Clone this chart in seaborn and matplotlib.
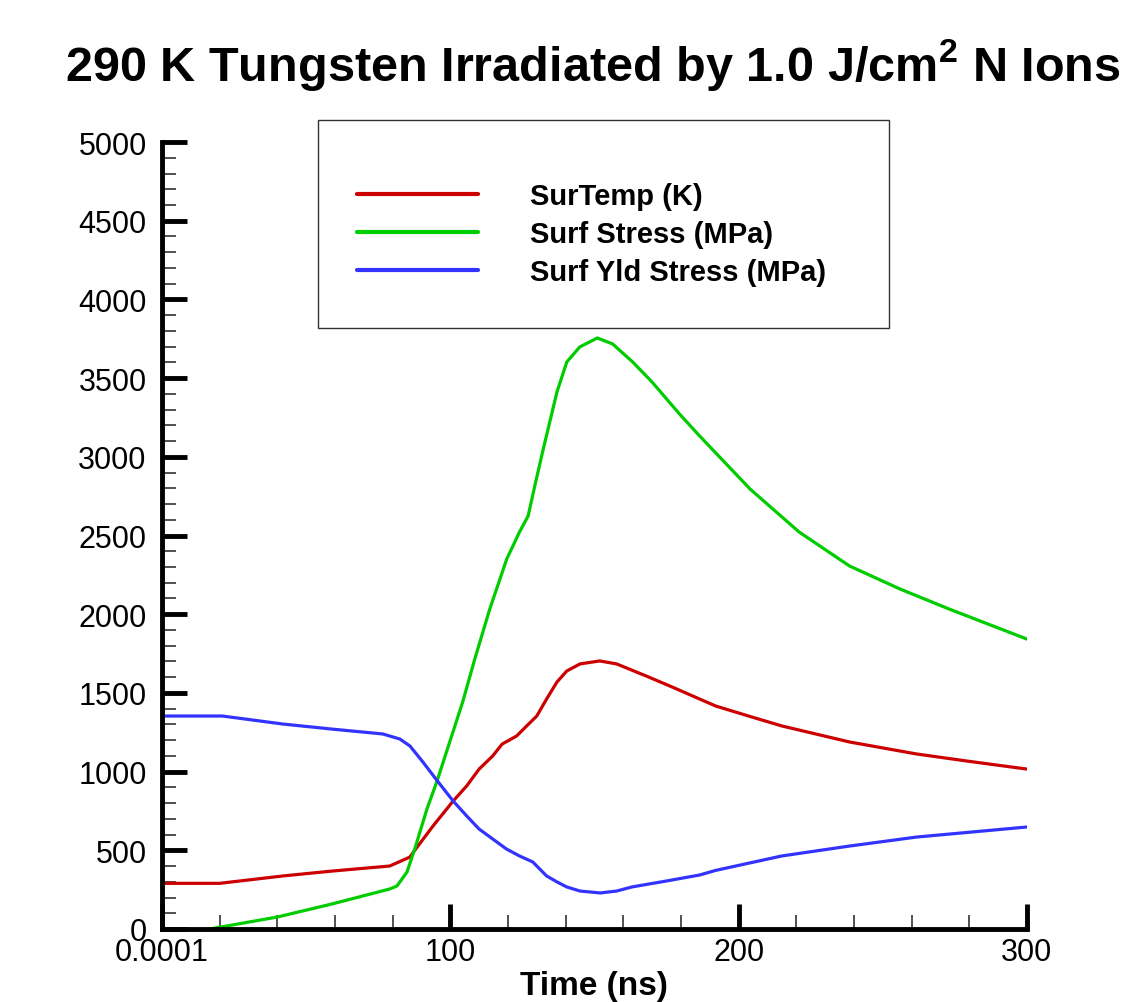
import matplotlib
matplotlib.use("Agg")
import matplotlib.pyplot as plt
import seaborn as sns
import pandas as pd
from matplotlib.ticker import MultipleLocator, FixedLocator, FixedFormatter
from matplotlib.patches import Rectangle
from matplotlib.lines import Line2D

# ---- data ----
temp_x = [0, 20, 42, 59, 79, 86, 88, 94, 101, 105.7, 110, 114.7, 118, 123, 126.5, 130, 133.4,
          137, 140.4, 145, 151.8, 157.7, 168, 177, 186.5, 192, 204, 215, 238.5, 261.7, 280, 300]
temp_y = [290, 290, 337, 368, 400, 457, 508, 654, 813, 909, 1016, 1099, 1175, 1226, 1290, 1353, 1461,
          1569, 1639, 1684, 1703, 1684, 1607, 1537, 1461, 1417, 1350, 1290, 1188, 1112, 1065, 1016]

stress_x = [16.6, 40, 59, 79, 81.5, 85, 88, 91.9, 95.3, 99.8, 104.3, 108.5, 113.7, 119.6, 124, 127,
            129.3, 132, 135, 137, 140.4, 144.9, 151, 156.3, 163.3, 170, 179.5, 186.5, 204, 221,
            238.5, 256, 273, 300]
stress_y = [0, 76, 159, 254, 273, 362, 527, 762, 934, 1188, 1442, 1715, 2033, 2351, 2522, 2624,
            2814, 3030, 3259, 3412, 3602, 3698, 3755, 3717, 3602, 3475, 3272, 3132, 2795, 2522,
            2306, 2160, 2033, 1842]

yld_x = [0, 21, 42, 59, 76.6, 82.5, 86, 90.5, 95, 101, 105.7, 110, 114.7, 119.5, 124, 128.6,
         133.4, 137, 140.4, 145, 152, 157.7, 163, 175, 186.5, 192, 215, 238.5, 261.7, 300]
yld_y = [1353, 1353, 1302, 1270, 1239, 1207, 1163, 1061, 953, 813, 718, 635, 572, 508, 464, 426,
         337, 299, 267, 241, 229, 241, 267, 305, 343, 372, 464, 527, 584, 648]

series_names = ["SurTemp (K)", "Surf Stress (MPa)", "Surf Yld Stress (MPa)"]
series_colors = ["#CC0000", "#00CC00", "#3333FF"]
x_tick_vals = [0, 100, 200, 300]
x_tick_labels = ["0.0001", "100", "200", "300"]

df = pd.concat([
    pd.DataFrame({"Time": temp_x, "Value": temp_y, "Series": series_names[0]}),
    pd.DataFrame({"Time": stress_x, "Value": stress_y, "Series": series_names[1]}),
    pd.DataFrame({"Time": yld_x, "Value": yld_y, "Series": series_names[2]}),
], ignore_index=True)

sns.set_theme(style="white")
plt.rcParams["font.family"] = ["Liberation Sans", "DejaVu Sans"]
plt.rcParams["text.color"] = "black"
plt.rcParams["axes.labelcolor"] = "black"
plt.rcParams["mathtext.fontset"] = "custom"
plt.rcParams["mathtext.bf"] = "Liberation Sans:bold"
plt.rcParams["mathtext.rm"] = "Liberation Sans"

fig = plt.figure(figsize=(11.27, 10.03), dpi=100)
ax = fig.add_axes([0.1437, 0.0728, 0.9112 - 0.1437, 0.8574 - 0.0728])

sns.lineplot(data=df, x="Time", y="Value", hue="Series", hue_order=series_names,
             palette=dict(zip(series_names, series_colors)), estimator=None,
             sort=True, linewidth=2.3, ax=ax, legend=False)

ax.set_xlim(0, 300)
ax.set_ylim(0, 5000)
ax.xaxis.set_major_locator(FixedLocator(x_tick_vals))
ax.xaxis.set_major_formatter(FixedFormatter(x_tick_labels))
ax.xaxis.set_minor_locator(MultipleLocator(20))
ax.yaxis.set_major_locator(MultipleLocator(500))
ax.yaxis.set_minor_locator(MultipleLocator(100))

for s in ["top", "right"]:
    ax.spines[s].set_visible(False)
for s in ["left", "bottom"]:
    ax.spines[s].set_linewidth(3.5)
    ax.spines[s].set_color("black")

ax.tick_params(which="major", direction="in", length=18, width=3.5, color="black",
               labelsize=22, labelcolor="black")
ax.tick_params(axis="y", which="major", pad=11)
ax.tick_params(axis="x", which="major", pad=6)
ax.tick_params(which="minor", direction="in", length=10, width=1.2, color="#333333")
ax.tick_params(axis="x", which="both", bottom=True)
ax.tick_params(axis="y", which="both", left=True)

ax.set_xlabel("Time (ns)", fontsize=24, fontweight="bold", labelpad=2, color="black")
ax.set_ylabel("")

fig.text(0.5265, 0.935, r"290 K Tungsten Irradiated by 1.0 J/cm$^{\mathbf{2}}$ N Ions",
         ha="center", va="center", fontsize=35, fontweight="bold", color="black")

# legend box
fig.patches.append(Rectangle((318 / 1127, 1 - 329 / 1003), (889 - 318) / 1127, (329 - 121) / 1003,
                             transform=fig.transFigure, facecolor="white", edgecolor="#333333",
                             linewidth=1.0, zorder=5))
handles = [Line2D([], [], color=c, linewidth=3.0) for c in series_colors]
leg = fig.legend(handles, series_names, loc="upper left",
                 bbox_to_anchor=(357 / 1127, 1 - 183 / 1003), frameon=False,
                 prop={"weight": "bold", "size": 21}, handlelength=4.14, handletextpad=1.78,
                 labelspacing=0.34, borderaxespad=0, borderpad=0)
leg.set_zorder(6)
for t in leg.get_texts():
    t.set_color("black")

fig.savefig("out.png", dpi=100, facecolor="white")
